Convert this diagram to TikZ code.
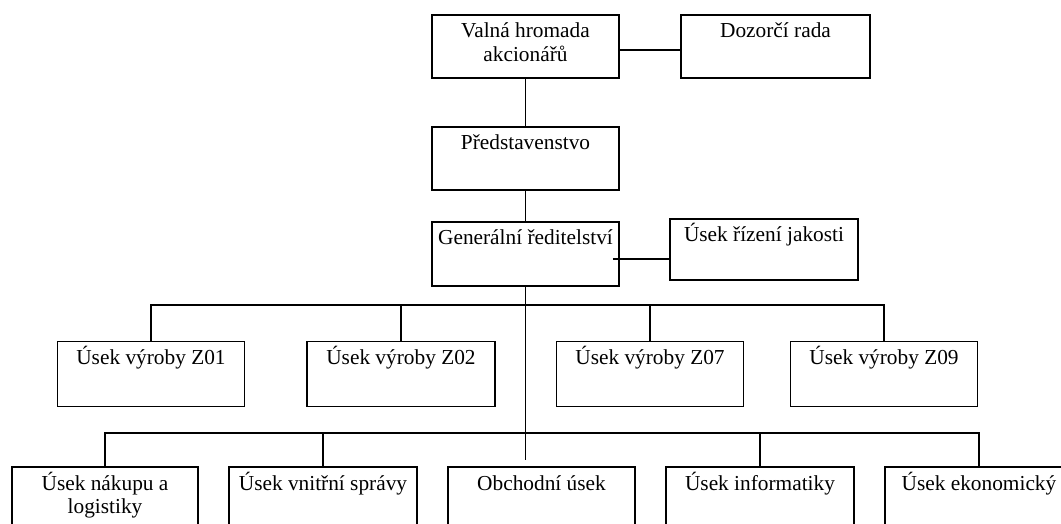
\documentclass[tikz,border=0pt]{standalone}
\usepackage{fontspec}
\setmainfont{Liberation Serif}
\newdimen\pxu
\pxu=0.75pt
\newcommand\bt[3]{\parbox[c][#2\pxu][t]{#1\pxu}{\centering\rule{0pt}{17.25pt}#3\par}}
\tikzset{
  orgbox/.style={draw, line width=1.3pt, inner sep=0pt, font=\fontsize{16}{17.8}\selectfont},
  conn/.style={line width=1.15pt}
}
\begin{document}
\begin{tikzpicture}[x=0.75pt,y=-0.75pt]
\clip (0,0) rectangle (1061,524);
\fill[white] (0,0) rectangle (1061,524);
% top
\node[orgbox] (v) at (525.5,46.5) {\bt{187}{63}{Valná hromada\\akcionářů}};
\node[orgbox] (d) at (775.5,46.5) {\bt{189}{63}{Dozorčí rada}};
\node[orgbox] (p) at (525.5,158.5) {\bt{187}{63}{Představenstvo}};
\node[orgbox] (g) at (525.5,254) {\bt{187}{64}{Generální ředitelství}};
\node[orgbox] (j) at (764,249.5) {\bt{188}{61}{Úsek řízení jakosti}};
% row 2
\node[orgbox] (z1) at (151,374) {\bt{187}{65}{Úsek výroby Z01}};
\node[orgbox] (z2) at (401,374) {\bt{188}{65}{Úsek výroby Z02}};
\node[orgbox] (z7) at (650,374) {\bt{187}{65}{Úsek výroby Z07}};
\node[orgbox] (z9) at (884,374) {\bt{187}{65}{Úsek výroby Z09}};
% row 3
\node[orgbox] (nak) at (105,517) {\bt{186}{100}{Úsek nákupu a\\logistiky}};
\node[orgbox] (vni) at (323,517) {\bt{188}{100}{Úsek vnitřní správy}};
\node[orgbox] (obc) at (541.5,517) {\bt{187}{100}{Obchodní úsek}};
\node[orgbox] (inf) at (760,517) {\bt{188}{100}{Úsek informatiky}};
\node[orgbox] (eko) at (979,517) {\bt{188}{100}{Úsek ekonomický}};
% connectors
\coordinate (vd) at ([yshift=-2.6pt]v.east);
\draw[conn] (vd) -- (vd -| d.west);
\draw[conn] (v.south) -- (p.north);
\draw[conn] (p.south) -- (g.north);
\coordinate (gj) at ([xshift=-5.25pt,yshift=-3.75pt]g.east);
\draw[conn] (gj) -- (gj -| j.west);
\coordinate (tend) at (525.5,460);
\draw[conn] (g.south) -- (tend);
\coordinate (bus2) at (525.5,305);
\draw[conn] (z1.north) -- (z1.north |- bus2) -| (z9.north);
\draw[conn] (z2.north) -- (z2.north |- bus2);
\draw[conn] (z7.north) -- (z7.north |- bus2);
\coordinate (bus3) at (525.5,433);
\draw[conn] (nak.north) -- (nak.north |- bus3) -| (eko.north);
\draw[conn] (vni.north) -- (vni.north |- bus3);
\draw[conn] (inf.north) -- (inf.north |- bus3);
\end{tikzpicture}
\end{document}
